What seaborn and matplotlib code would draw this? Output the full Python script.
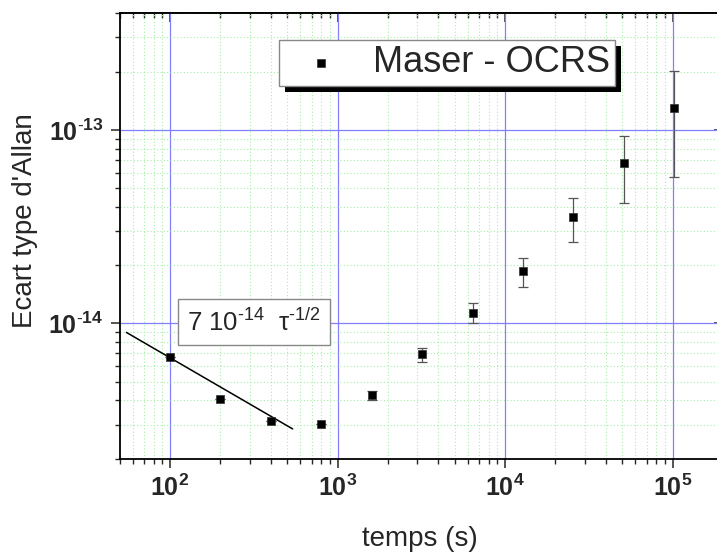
import numpy as np
import pandas as pd
import matplotlib
matplotlib.use('Agg')
import matplotlib.pyplot as plt
import matplotlib.patheffects as pe
from matplotlib.ticker import LogLocator, FuncFormatter, NullFormatter
import seaborn as sns

# Allan deviation, Maser - OCRS
tau = [100, 200, 400, 800, 1600, 3200, 6400, 12800, 25600, 51200, 102400]
adev = [6.7e-15, 4.06e-15, 3.13e-15, 3.01e-15, 4.27e-15, 6.94e-15,
        1.13e-14, 1.87e-14, 3.55e-14, 6.73e-14, 1.29e-13]
adev_low = [6.7e-15, 4.06e-15, 3.13e-15, 3.01e-15, 4.02e-15, 6.3e-15,
            1.0e-14, 1.54e-14, 2.62e-14, 4.18e-14, 5.69e-14]
adev_high = [6.7e-15, 4.06e-15, 3.13e-15, 3.01e-15, 4.5e-15, 7.5e-15,
             1.27e-14, 2.19e-14, 4.43e-14, 9.24e-14, 2.01e-13]

# white-noise line 7e-14 tau^-1/2 (end points)
fit_tau = [55, 540]
fit_adev = [8.98e-15, 2.85e-15]

df = pd.DataFrame({'tau': tau, 'adev': adev, 'lo': adev_low, 'hi': adev_high})
fit_df = pd.DataFrame({'tau': fit_tau, 'adev': fit_adev})

sns.set_theme(style='ticks')
plt.rcParams['font.family'] = ['Liberation Sans', 'DejaVu Sans']
plt.rcParams['mathtext.fontset'] = 'custom'
plt.rcParams['mathtext.rm'] = 'Liberation Sans'
plt.rcParams['mathtext.it'] = 'Liberation Sans:italic'
plt.rcParams['mathtext.bf'] = 'Liberation Sans:bold'

fig = plt.figure(figsize=(7.17, 5.53), dpi=100)
ax = fig.add_axes([0.1667, 0.1705, 0.8417, 0.8055])

ax.set_xscale('log')
ax.set_yscale('log')

# error bars then points
ax.errorbar(df['tau'], df['adev'], yerr=[df['adev'] - df['lo'], df['hi'] - df['adev']],
            fmt='none', ecolor='#555555', elinewidth=0.9, capsize=3.5, capthick=0.9, zorder=3)
sns.lineplot(data=fit_df, x='tau', y='adev', color='black', linewidth=1.1, ax=ax, zorder=4)
sns.scatterplot(data=df, x='tau', y='adev', marker='s', s=34, color='black',
                edgecolor='#333333', linewidth=0.5, ax=ax, zorder=5, label='Maser - OCRS')

ax.set_xlim(50, 2e5)
ax.set_ylim(2e-15, 4e-13)

# grid
ax.grid(which='minor', color='#a8eea8', linestyle=(0, (1, 2)), linewidth=0.8)
ax.grid(which='major', color='#8080ff', linestyle='-', linewidth=0.9)
ax.set_axisbelow(True)


def pow_label(v, pos):
    e = int(round(np.log10(v)))
    if e < 0:
        return r'$\mathbf{10}^{\text{-}\mathbf{%d}}$' % (-e)
    return r'$\mathbf{10^{%d}}$' % e


# ticks
for axis in (ax.xaxis, ax.yaxis):
    axis.set_major_locator(LogLocator(base=10))
    axis.set_minor_locator(LogLocator(base=10, subs=np.arange(2, 10)))
    axis.set_minor_formatter(NullFormatter())
    axis.set_major_formatter(FuncFormatter(pow_label))
ax.tick_params(which='major', direction='out', length=6.5, width=1.1, labelsize=18, pad=5)
ax.tick_params(which='minor', direction='out', length=3.5, width=1.0)

for s in ax.spines.values():
    s.set_linewidth(1.3)
    s.set_color('black')

secx = ax.secondary_xaxis('top')
secy = ax.secondary_yaxis('right')
for sec, axis in ((secx, secx.xaxis), (secy, secy.yaxis)):
    axis.set_major_locator(LogLocator(base=10))
    axis.set_minor_locator(LogLocator(base=10, subs=np.arange(2, 10)))
    sec.tick_params(which='major', direction='in', length=6.5, width=1.1)
    sec.tick_params(which='minor', direction='in', length=3.5, width=1.0)
    for s in sec.spines.values():
        s.set_linewidth(1.3)
secx.tick_params(labeltop=False)
secy.tick_params(labelright=False)

ax.set_xlabel('temps (s)', fontsize=20)
ax.set_ylabel("Ecart type d'Allan", fontsize=20)
ax.xaxis.set_label_coords(0.498, -0.152)
ax.yaxis.set_label_coords(-0.135, 0.535)

# formula box
ax.text(0.112, 0.307, r'7 10$^{\text{-}14}$  τ$^{\text{-}1/2}$', transform=ax.transAxes, fontsize=18.5,
        va='center', ha='left', zorder=6,
        bbox=dict(boxstyle='square,pad=0.35', facecolor='white', edgecolor='#888888', linewidth=1.0))

leg = ax.legend(loc='upper left', bbox_to_anchor=(0.264, 0.940), fontsize=26,
                frameon=True, fancybox=False, borderpad=0.15, handlelength=2.05,
                handletextpad=0.4, borderaxespad=0, markerscale=1.0)
frame = leg.get_frame()
frame.set_edgecolor('#888888')
frame.set_linewidth(1.0)
frame.set_facecolor('white')
frame.set_alpha(1)
frame.set_path_effects([pe.SimplePatchShadow(offset=(4.5, -4.5), shadow_rgbFace='black', alpha=1),
                        pe.Normal()])

fig.savefig('out.png', dpi=100)
